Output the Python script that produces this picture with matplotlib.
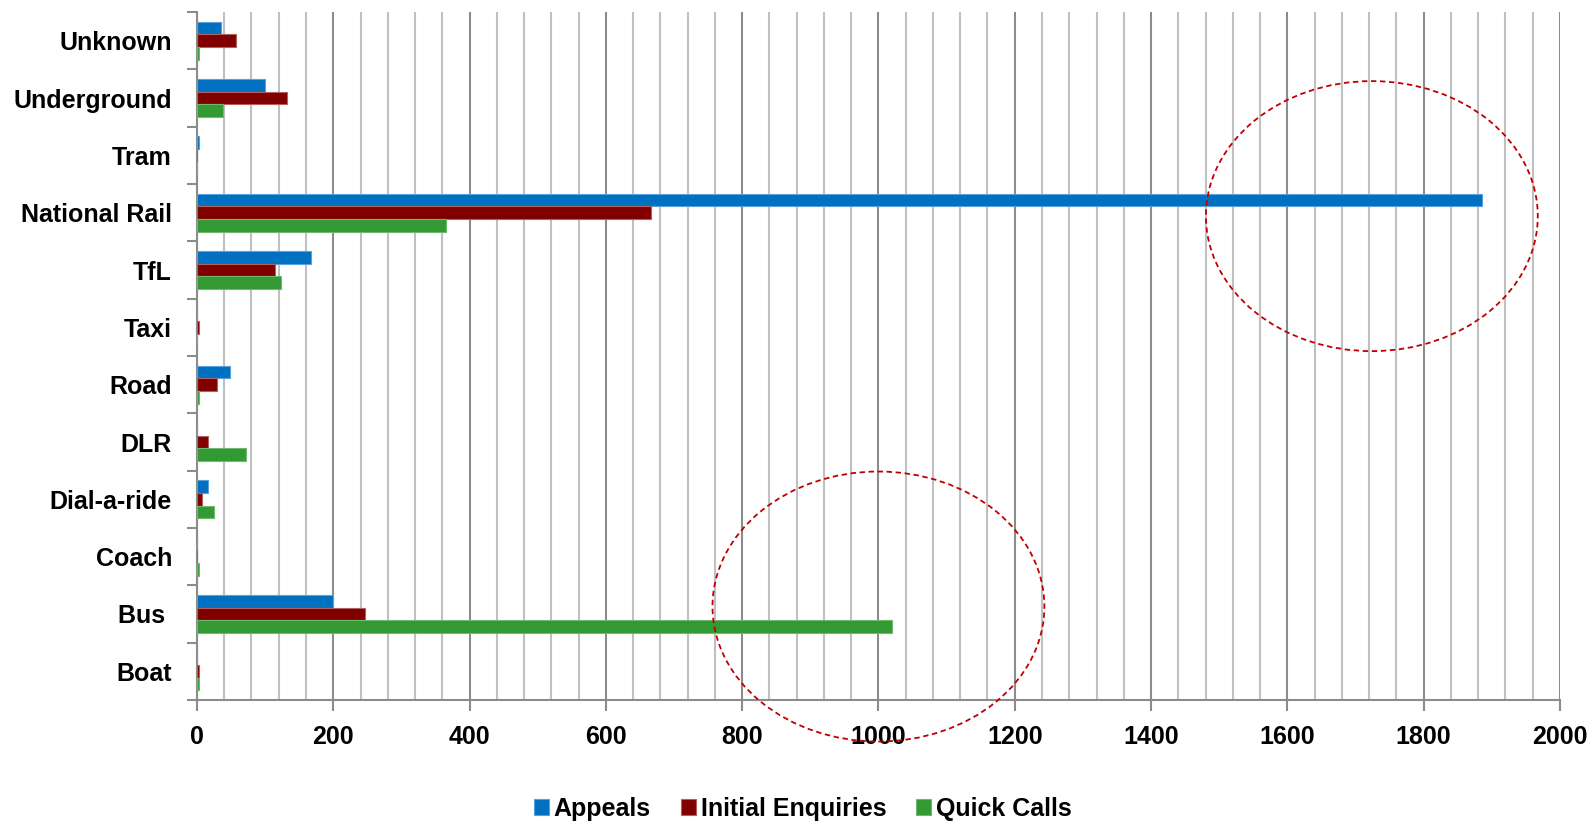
import matplotlib
matplotlib.use("Agg")
import matplotlib.pyplot as plt
import numpy as np
from matplotlib.patches import Ellipse
from matplotlib.ticker import MultipleLocator, FixedLocator

categories = ["Boat", "Bus ", "Coach", "Dial-a-ride", "DLR", "Road", "Taxi",
              "TfL", "National Rail", "Tram", "Underground", "Unknown"]
appeals = [0, 199, 0, 16, 0, 49, 0, 168, 1886, 3, 100, 36]
initial_enquiries = [3, 247, 0, 8, 16, 29, 3, 115, 666, 0, 132, 57]
quick_calls = [3, 1020, 3, 25, 72, 3, 0, 123, 366, 0, 38, 3]
series_names = ["Appeals", "Initial Enquiries", "Quick Calls"]
colors = ["#0070C0", "#800000", "#339933"]
edge_colors = ["#5aa0dc", "#b06060", "#70b870"]
xticks = [0, 200, 400, 600, 800, 1000, 1200, 1400, 1600, 1800, 2000]

plt.rcParams['font.family'] = ['Liberation Sans', 'DejaVu Sans']
plt.rcParams['font.weight'] = 'bold'
FS = 18

fig = plt.figure(figsize=(15.96, 8.24), dpi=100)
ax = fig.add_axes([0.1234, 0.1505, 0.8540, 0.8349])

y = np.arange(len(categories))
h = 0.22
for vals, off, c, ec, name in zip([appeals, initial_enquiries, quick_calls],
                                 [h, 0, -h], colors, edge_colors, series_names):
    ax.barh(y + off, vals, height=h, color=c, edgecolor=ec, linewidth=0.8,
            label=name, zorder=3)

ax.set_xlim(0, 2000)
ax.set_ylim(-0.5, len(categories) - 0.5)

ax.xaxis.set_major_locator(FixedLocator(xticks))
ax.xaxis.set_minor_locator(MultipleLocator(40))
ax.grid(axis='x', which='major', color='#8c8c8c', linewidth=1.5, zorder=1)
ax.grid(axis='x', which='minor', color='#c0c0c0', linewidth=1.5, zorder=1)
ax.tick_params(axis='x', which='major', length=8, width=1.5, color='#8c8c8c',
               labelsize=FS, pad=10)
ax.tick_params(axis='x', which='minor', length=0)

ax.set_yticks(y)
ax.set_yticklabels(categories)
ax.yaxis.set_minor_locator(FixedLocator(np.arange(-0.5, len(categories), 1.0)))
ax.tick_params(axis='y', which='major', length=0, labelsize=FS, pad=18)
ax.tick_params(axis='y', which='minor', length=7, width=1.5, color='#8c8c8c')
for lab in ax.get_xticklabels() + ax.get_yticklabels():
    lab.set_fontweight('bold')

for s in ['top', 'right']:
    ax.spines[s].set_visible(False)
for s in ['left', 'bottom']:
    ax.spines[s].set_color('#8c8c8c')
    ax.spines[s].set_linewidth(1.5)

# highlight ellipses
for (cx, cy) in [(1724, 7.94), (1000, 1.13)]:
    e = Ellipse((cx, cy), width=487, height=4.71, fill=False,
                edgecolor='#C00000', linestyle=(0, (3, 2)), linewidth=1.3,
                zorder=5, clip_on=False)
    ax.add_patch(e)

leg = fig.legend(loc='center', bbox_to_anchor=(0.503, 0.018), ncol=3, frameon=False,
                 handlelength=0.6, handleheight=0.6,
                 handletextpad=0.2, columnspacing=1.2,
                 prop={'weight': 'bold', 'size': FS})

fig.savefig("out.png", dpi=100)
